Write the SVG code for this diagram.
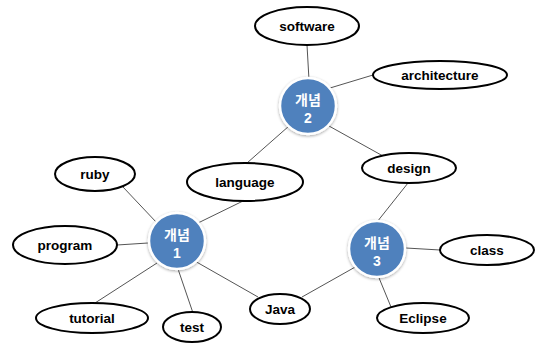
<svg xmlns="http://www.w3.org/2000/svg" width="536" height="343" viewBox="0 0 536 343">
<defs>
<filter id="sh" x="-30%" y="-30%" width="160%" height="160%">
<feGaussianBlur in="SourceAlpha" stdDeviation="1.5"/>
<feOffset dx="0" dy="1" result="b"/>
<feComponentTransfer><feFuncA type="linear" slope="0.35"/></feComponentTransfer>
<feMerge><feMergeNode/><feMergeNode in="SourceGraphic"/></feMerge>
</filter>
</defs>
<style>
.e{fill:#fff;stroke:#000;stroke-width:2}
.c{fill:#4F81BD;stroke:#fff;stroke-width:2.5;filter:url(#sh)}
.t{font-family:"Liberation Sans",Arial,sans-serif;font-weight:bold;font-size:13.5px;text-anchor:middle;fill:#000}
.ct{font-family:"Noto Sans CJK KR","Liberation Sans",sans-serif;font-weight:bold;font-size:14px;text-anchor:middle;fill:#fff}
.cn{font-family:"Liberation Sans",Arial,sans-serif;font-weight:bold;font-size:14px;text-anchor:middle;fill:#fff}
.l{stroke:#555;stroke-width:1;fill:none}
</style>
<rect width="536" height="343" fill="#fff"/>
<g id="connectors">
<line class="l" x1="307" y1="45" x2="309" y2="80"/>
<line class="l" x1="373" y1="75" x2="330" y2="88"/>
<line class="l" x1="247" y1="163" x2="289" y2="126"/>
<line class="l" x1="329" y1="126" x2="383" y2="156"/>
<line class="l" x1="123" y1="187" x2="157" y2="223"/>
<line class="l" x1="117" y1="245" x2="148" y2="243"/>
<line class="l" x1="243" y1="201" x2="198" y2="223"/>
<line class="l" x1="95" y1="303" x2="157" y2="263"/>
<line class="l" x1="193" y1="313" x2="178" y2="269"/>
<line class="l" x1="258" y1="297" x2="193" y2="260"/>
<line class="l" x1="408" y1="183" x2="377" y2="222"/>
<line class="l" x1="406" y1="248" x2="440" y2="250"/>
<line class="l" x1="377" y1="273" x2="391" y2="307"/>
<line class="l" x1="302" y1="297" x2="357" y2="266"/>
</g>
<g id="software"><ellipse class="e" cx="307" cy="26" rx="52" ry="19"/><text class="t" x="307" y="31">software</text></g>
<g id="architecture"><ellipse class="e" cx="440" cy="75" rx="67" ry="14"/><text class="t" x="440" y="80">architecture</text></g>
<g id="concept2"><circle class="c" cx="308" cy="106" r="28"/><text class="ct" x="308" y="105">개념</text><text class="cn" x="308" y="122.5">2</text></g>
<g id="ruby"><ellipse class="e" cx="95" cy="174" rx="40" ry="17"/><text class="t" x="95" y="179">ruby</text></g>
<g id="language"><ellipse class="e" cx="245" cy="182" rx="58" ry="19"/><text class="t" x="245" y="187">language</text></g>
<g id="design"><ellipse class="e" cx="409" cy="168" rx="47" ry="15"/><text class="t" x="409" y="173">design</text></g>
<g id="program"><ellipse class="e" cx="65" cy="245" rx="52" ry="19"/><text class="t" x="65" y="250">program</text></g>
<g id="concept1"><circle class="c" cx="177" cy="241" r="28"/><text class="ct" x="177" y="240">개념</text><text class="cn" x="177" y="257.5">1</text></g>
<g id="concept3"><circle class="c" cx="377" cy="249" r="28"/><text class="ct" x="377" y="248">개념</text><text class="cn" x="377" y="265.5">3</text></g>
<g id="class"><ellipse class="e" cx="487" cy="250" rx="47" ry="15"/><text class="t" x="487" y="255">class</text></g>
<g id="tutorial"><ellipse class="e" cx="92" cy="318" rx="56" ry="15"/><text class="t" x="92" y="323">tutorial</text></g>
<g id="test"><ellipse class="e" cx="192" cy="327" rx="29" ry="15"/><text class="t" x="192" y="332">test</text></g>
<g id="java"><ellipse class="e" cx="280" cy="309" rx="30" ry="15"/><text class="t" x="280" y="314">Java</text></g>
<g id="eclipse"><ellipse class="e" cx="423" cy="318" rx="46" ry="15"/><text class="t" x="423" y="323">Eclipse</text></g>
</svg>
